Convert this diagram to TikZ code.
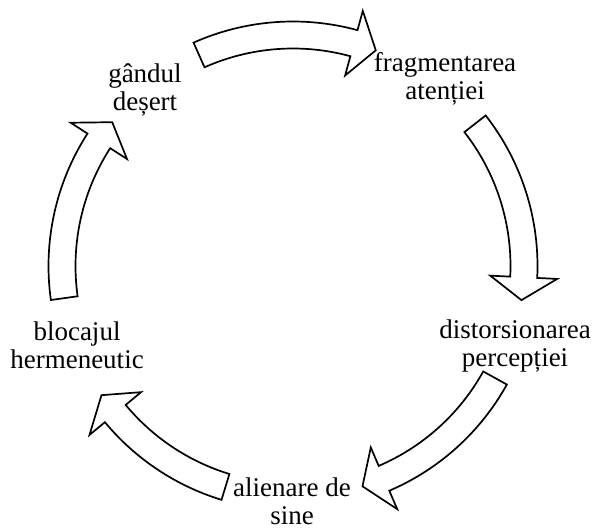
\documentclass[tikz,border=0pt]{standalone}
\usepackage{fontspec}
\setmainfont{Liberation Serif}
\usepackage{tikz}
\tikzset{
  every picture/.style={line join=miter, line cap=butt},
  cyclbl/.style={align=center, inner sep=0pt, font=\fontsize{27}{28}\selectfont},
  blockarr/.style={draw=black, fill=white, line width=1.7pt},
}
% curved block arrow from angle #1 (tail) clockwise to angle #2 (tip)
\newcommand{\cycarrow}[2]{%
  \draw[blockarr] (#1:244.5) arc[start angle=#1, end angle=#2+5.7, radius=244.5]
    -- (#2+5.7:264.5) -- (#2:231) -- (#2+5.7:197.5) -- (#2+5.7:217.5)
    arc[start angle=#2+5.7, end angle=#1, radius=217.5] -- cycle;}

\begin{document}
\begin{tikzpicture}[x=1pt,y=1pt]
\useasboundingbox (0,0) rectangle (593,531);
\coordinate (ctr) at (293,265);
\begin{scope}[shift={(ctr)}]
\cycarrow{114}{69}
\cycarrow{38}{-8.5}
\cycarrow{-29}{-72.5}
\cycarrow{-107}{-146}
\cycarrow{188}{141.5}
\end{scope}
\node[cyclbl] (gandul) at (145,441) {gândul\\deșert};
\node[cyclbl] (fragm) at (445,452.5) {fragmentarea\\atenției};
\node[cyclbl] (distors) at (515,185) {distorsionarea\\percepției};
\node[cyclbl] (alien) at (292,30) {alienare de\\sine};
\node[cyclbl] (bloc) at (77,186) {blocajul\\hermeneutic};
\end{tikzpicture}
\end{document}
